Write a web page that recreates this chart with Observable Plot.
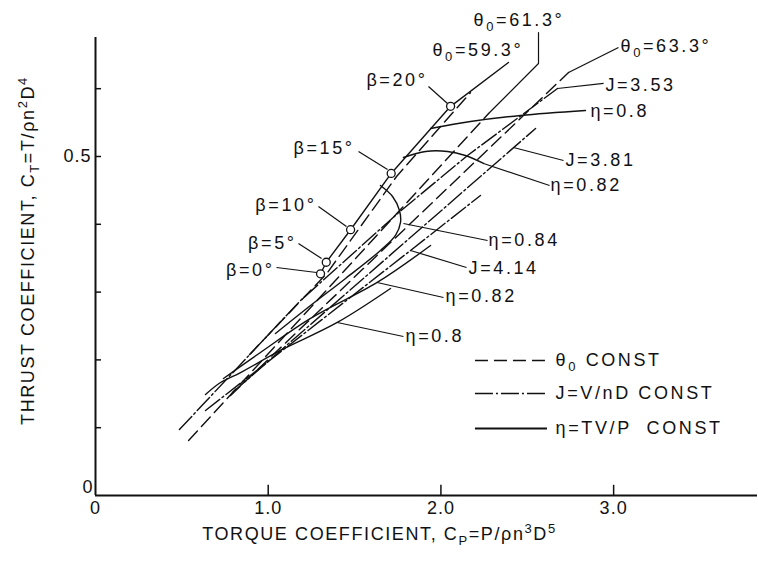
<!DOCTYPE html>
<html><head><meta charset="utf-8">
<script src="https://cdn.jsdelivr.net/npm/d3@7"></script>
<script src="https://cdn.jsdelivr.net/npm/@observablehq/plot@0.6"></script>
<style>html,body{margin:0;padding:0;background:#fff;}</style>
</head><body><div id="chart"></div>
<script>
// ---------- axes ----------
const xDomain = [0, 3.833];
const yDomain = [0, 0.6755];
const xTickValues = [0, 1, 2, 3];
const xTickLabels = ["0", "1.0", "2.0", "3.0"];
const yMinorTicks = [0.1, 0.2, 0.3, 0.4, 0.5, 0.6];
const xTitle = "TORQUE COEFFICIENT, C_P=P/ρn^3D^5";
const yTitle = "THRUST COEFFICIENT, C_T=T/ρn^2D^4";

// ---------- β points (solid line with circles) ----------
const betaNames = ["β=0°", "β=5°", "β=10°", "β=15°", "β=20°"];
const betaCp = [1.303, 1.336, 1.477, 1.712, 2.056];
const betaCt = [0.327, 0.344, 0.392, 0.475, 0.574];
const betaLineCp = [1.303, 1.336, 1.477, 1.712, 2.056, 2.391];
const betaLineCt = [0.327, 0.344, 0.392, 0.475, 0.574, 0.6386];

// ---------- θ0 = const (dashed) ----------
const theta593Cp = [0.892, 1.338, 1.743, 2.090, 2.171];
const theta593Ct = [0.208, 0.327, 0.4705, 0.5708, 0.594];
const theta613Cp = [0.539, 2.276];
const theta613Ct = [0.0811, 0.5634];
const theta633Cp = [0.782, 2.739];
const theta633Ct = [0.1475, 0.6239];

// ---------- J = const (dash-dot) ----------
const j353Cp = [0.486, 1.187, 1.749, 2.154, 2.675];
const j353Ct = [0.0973, 0.2876, 0.4159, 0.5015, 0.6003];
const j381Cp = [0.793, 2.548];
const j381Ct = [0.1519, 0.5413];
const j414Cp = [0.637, 1.824, 2.229];
const j414Ct = [0.1254, 0.3614, 0.4425];

// ---------- η = const (solid) ----------
const eta84Cp = [1.650, 1.720, 1.760, 1.766, 1.737, 1.650, 1.448, 1.245, 1.042];
const eta84Ct = [0.4572, 0.4410, 0.4204, 0.4027, 0.3835, 0.3614, 0.3201, 0.2802, 0.2389];
const eta82uCp = [1.783, 1.911, 2.038, 2.142, 2.247];
const eta82uCt = [0.4985, 0.5074, 0.5074, 0.5015, 0.4897];
const eta80uCp = [1.940, 2.171, 2.461, 2.837];
const eta80uCt = [0.5413, 0.5516, 0.5605, 0.5678];
const eta82lCp = [0.741, 0.955, 1.245, 1.631, 1.940];
const eta82lCt = [0.1726, 0.2109, 0.2611, 0.3142, 0.3687];
const eta80lCp = [0.637, 0.724, 0.840, 1.071, 1.400, 1.708];
const eta80lCt = [0.1490, 0.1667, 0.1814, 0.2139, 0.2552, 0.3053];

// ---------- annotation labels ----------
const labelTexts = ["θ_0=61.3°", "θ_0=59.3°", "θ_0=63.3°", "J=3.53", "η=0.8", "J=3.81", "η=0.82", "η=0.84", "J=4.14", "η=0.82", "η=0.8"];
const labelCp = [2.189, 1.951, 3.040, 2.953, 2.866, 2.721, 2.635, 2.276, 2.160, 2.027, 1.795];
const labelCt = [0.7006, 0.6563, 0.6622, 0.6047, 0.5664, 0.4941, 0.4572, 0.3761, 0.3348, 0.2935, 0.2345];
const betaLabelCp = [1.042, 1.170, 1.285, 1.506, 1.928];
const betaLabelCt = [0.3319, 0.3717, 0.4277, 0.5118, 0.6121];

// leader lines (from -> to)
const leaderCp1 = [1.048, 1.175, 1.291, 1.523, 1.928, 2.739, 2.675, 2.420, 2.247, 1.783, 1.824, 1.631, 1.400];
const leaderCt1 = [0.3363, 0.3717, 0.4263, 0.5074, 0.6032, 0.6239, 0.6003, 0.5133, 0.4897, 0.4012, 0.3614, 0.3142, 0.2552];
const leaderCp2 = [1.280, 1.309, 1.453, 1.691, 2.038, 3.028, 2.942, 2.710, 2.629, 2.270, 2.148, 2.015, 1.783];
const leaderCt2 = [0.3289, 0.3496, 0.3968, 0.4808, 0.5782, 0.6608, 0.6077, 0.4941, 0.4572, 0.3761, 0.3363, 0.2920, 0.2345];
const leader613Cp = [2.276, 2.565, 2.565];
const leader613Ct = [0.5634, 0.6372, 0.6829];

// ---------- legend ----------
const legendNames = ["θ_0 CONST", "J=V/nD CONST", "η=TV/P  CONST"];
const legendCt = [0.1991, 0.1504, 0.0988];
const legendSampleCp = [2.200, 2.617];
const legendTextCp = 2.664;

// ---------- build ----------
const pts = (xs, ys) => xs.map((x, i) => ({x, y: ys[i]}));
const INK = "#111";
const DASH = "13,6";
const DASHDOT = "18,3,2,3";
const SW = 1.4;

const dashed = [[theta593Cp, theta593Ct], [theta613Cp, theta613Ct], [theta633Cp, theta633Ct]];
const dashdot = [[j353Cp, j353Ct], [j381Cp, j381Ct], [j414Cp, j414Ct]];
const solidCurves = [[eta84Cp, eta84Ct], [eta82uCp, eta82uCt], [eta80uCp, eta80uCt], [eta82lCp, eta82lCt], [eta80lCp, eta80lCt]];

const marks = [];
marks.push(Plot.ruleY([0], {stroke: INK, strokeWidth: 2}));
marks.push(Plot.ruleX([0], {stroke: INK, strokeWidth: 2}));
marks.push(Plot.ruleX(xTickValues.slice(1), {x: d => d, y1: 0, y2: 0.015, stroke: INK, strokeWidth: 1.5}));
marks.push(Plot.ruleY(yMinorTicks, {y: d => d, x1: 0, x2: 0.035, stroke: INK, strokeWidth: 1.5}));
marks.push(Plot.text(xTickValues, {x: d => d, y: 0, text: (d, i) => xTickLabels[i], dy: 13, fill: INK}));
marks.push(Plot.text([0.5], {x: 0, y: d => d, text: ["0.5"], textAnchor: "end", dx: -4, fill: INK}));
marks.push(Plot.text([0], {x: 0, y: d => d, text: ["0"], textAnchor: "end", dx: -2, dy: -8, fill: INK}));
marks.push(Plot.text([xTitle], {frameAnchor: "bottom-left", dx: 284, dy: 44, textAnchor: "middle", fill: INK}));
marks.push(Plot.text([yTitle], {frameAnchor: "left", dx: -67, dy: -16, rotate: -90, textAnchor: "middle", fill: INK}));

for (const [xs, ys] of dashed) marks.push(Plot.line(pts(xs, ys), {x: "x", y: "y", stroke: INK, strokeWidth: SW, strokeDasharray: DASH}));
for (const [xs, ys] of dashdot) marks.push(Plot.line(pts(xs, ys), {x: "x", y: "y", stroke: INK, strokeWidth: SW, strokeDasharray: DASHDOT}));
for (const [xs, ys] of solidCurves) marks.push(Plot.line(pts(xs, ys), {x: "x", y: "y", stroke: INK, strokeWidth: SW, curve: "catmull-rom"}));
marks.push(Plot.line(pts(betaLineCp, betaLineCt), {x: "x", y: "y", stroke: INK, strokeWidth: SW}));
marks.push(Plot.line(pts(leader613Cp, leader613Ct), {x: "x", y: "y", stroke: INK, strokeWidth: 1.2}));
marks.push(Plot.link(leaderCp1.map((d, i) => i), {x1: i => leaderCp1[i], y1: i => leaderCt1[i], x2: i => leaderCp2[i], y2: i => leaderCt2[i], stroke: INK, strokeWidth: 1.2}));
marks.push(Plot.dot(pts(betaCp, betaCt), {x: "x", y: "y", r: 4, fill: "white", stroke: INK, strokeWidth: 1.3}));

marks.push(Plot.text(labelTexts, {x: (d, i) => labelCp[i], y: (d, i) => labelCt[i], text: d => d, textAnchor: "start", fill: INK}));
marks.push(Plot.text(betaNames, {x: (d, i) => betaLabelCp[i], y: (d, i) => betaLabelCt[i], text: d => d, textAnchor: "end", dx: -1, fill: INK}));

marks.push(Plot.ruleY([legendCt[0]], {y: d => d, x1: legendSampleCp[0], x2: legendSampleCp[1], stroke: INK, strokeWidth: SW, strokeDasharray: DASH}));
marks.push(Plot.ruleY([legendCt[1]], {y: d => d, x1: legendSampleCp[0], x2: legendSampleCp[1], stroke: INK, strokeWidth: SW, strokeDasharray: DASHDOT}));
marks.push(Plot.ruleY([legendCt[2]], {y: d => d, x1: legendSampleCp[0], x2: legendSampleCp[1], stroke: INK, strokeWidth: 2}));
marks.push(Plot.text(legendNames, {x: legendTextCp, y: (d, i) => legendCt[i], text: d => d, textAnchor: "start", fill: INK}));

const svg = Plot.plot({
  width: 758,
  height: 562,
  marginLeft: 95,
  marginRight: 1,
  marginTop: 37,
  marginBottom: 67,
  x: {domain: xDomain, axis: null},
  y: {domain: yDomain, axis: null},
  style: {fontFamily: "'Liberation Sans', Arial, Helvetica, sans-serif", fontSize: "18px", letterSpacing: "2.6px", background: "white", color: INK, overflow: "visible"},
  marks
});

function richText(root) {
  const NS = "http://www.w3.org/2000/svg";
  root.querySelectorAll("text").forEach(t => {
    const s = t.textContent;
    if (/COEFFICIENT/.test(s)) t.style.letterSpacing = "1.6px";
    if (xTickLabels.includes(s) || s === "0.5") t.style.letterSpacing = "1px";
    if (!/[_^]/.test(s)) return;
    while (t.firstChild) t.removeChild(t.firstChild);
    let shift = 0, buf = "";
    const add = (txt, mode) => {
      if (!txt) return;
      const sp = document.createElementNS(NS, "tspan");
      const target = mode === "sub" ? 5 : mode === "sup" ? -7 : 0;
      const dy = target - shift;
      if (dy) sp.setAttribute("dy", dy);
      if (mode !== "n") sp.setAttribute("font-size", "13px");
      sp.textContent = txt;
      t.appendChild(sp);
      shift = target;
    };
    for (let i = 0; i < s.length; i++) {
      const c = s[i];
      if ((c === "_" || c === "^") && i + 1 < s.length) {
        add(buf, "n"); buf = "";
        add(s[i + 1], c === "_" ? "sub" : "sup");
        i++;
      } else buf += c;
    }
    add(buf, "n");
  });
}
richText(svg);
document.getElementById("chart").appendChild(svg);
</script>
</body></html>
